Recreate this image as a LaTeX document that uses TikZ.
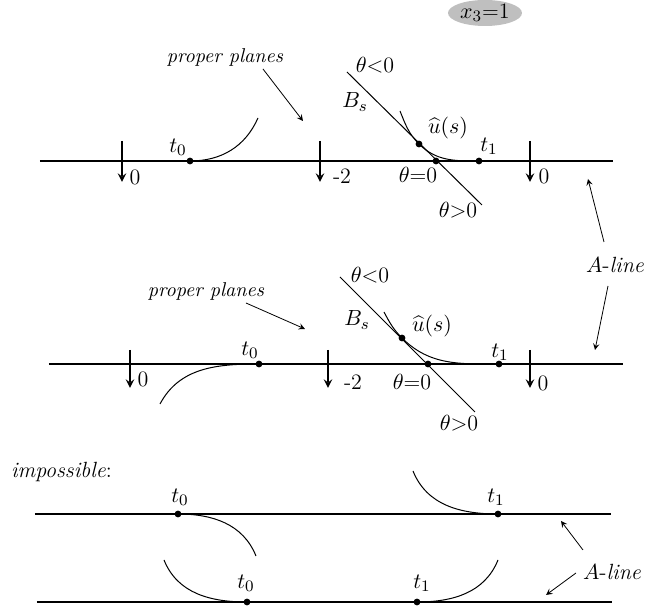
\documentclass[tikz,border=0pt]{standalone}
\usetikzlibrary{shapes.geometric}

\tikzset{
  dot/.style={circle, fill, inner sep=0pt, minimum size=3.4pt},
  axis/.style={line width=1.1pt},
  tick/.style={line width=0.9pt, ->},
  curve/.style={line width=0.5pt},
  pointer/.style={line width=0.4pt, ->},
  ulabel/.style={inner sep=0.5pt}
}

\begin{document}
\begin{tikzpicture}[x=0.5pt, y=-0.5pt, >=stealth, font=\fontsize{11}{13}\selectfont]
  \useasboundingbox (0,0) rectangle (645,614);

  \node[ellipse, fill=gray!50, minimum width=37pt, minimum height=13pt, inner sep=0pt] (xthree) at (485,13) {$x_3$=1};

  % first row
  \coordinate (la1) at (40,161);
  \coordinate (la2) at (613,161);
  \draw[axis] (la1) -- (la2);
  \foreach \x/\n in {122/a, 320/b, 530/c} {
    \coordinate (tkAtop\n) at (\x,141);
    \coordinate (tkAbot\n) at (\x,182);
    \draw[tick] (tkAtop\n) -- (tkAbot\n);
  }
  \node (zeroAa) at (135,177) {0};
  \node (twoA) at (342,176) {-2};
  \node (zeroAc) at (544,176) {0};

  \node[dot] (t0a) at (190,161) {};
  \node[dot] (ua) at (419,144) {};
  \node[dot] (tha) at (436,161) {};
  \node[dot] (t1a) at (479,161) {};
  \node (lt0a) at (178,147) {$t_0$};
  \node (lt1a) at (489,146) {$t_1$};
  \node[ulabel] (lua) at (448,128) {$\widehat{u}(s)$};
  \node (ltlessa) at (375,65) {$\theta$<0};
  \node (lbsa) at (355,102) {$B_s$};
  \node (lteqa) at (418,175) {$\theta$=0};
  \node (ltmorea) at (458,210) {$\theta$>0};

  \coordinate (bsa1) at (347,72);
  \coordinate (bsa2) at (482,205);
  \draw[curve] (bsa1) -- (bsa2);
  \coordinate (ca1) at (258,118);
  \draw[curve] (t0a.center) to[out=0, in=-114] (ca1);
  \coordinate (cu1) at (400,111);
  \draw[curve] (cu1) to[out=-68, in=135] (ua.center) to[out=-45, in=180] (t1a.center);

  \node[font=\itshape] (ppa) at (225,58) {proper planes};
  \coordinate (ppa1) at (263,69);
  \coordinate (ppa2) at (303,121);
  \draw[pointer] (ppa1) -- (ppa2);

  % second row
  \coordinate (lb1) at (49,364);
  \coordinate (lb2) at (623,364);
  \draw[axis] (lb1) -- (lb2);
  \foreach \x/\n in {130/a, 328/b, 530/c} {
    \coordinate (tkBtop\n) at (\x,350);
    \coordinate (tkBbot\n) at (\x,388);
    \draw[tick] (tkBtop\n) -- (tkBbot\n);
  }
  \node (zeroBa) at (143,379) {0};
  \node (twoB) at (353,382) {-2};
  \node (zeroBc) at (543,383) {0};

  \node[dot] (t0b) at (259,364) {};
  \node[dot] (ub) at (402,338) {};
  \node[dot] (thb) at (428,364) {};
  \node[dot] (t1b) at (499,364) {};
  \node (lt0b) at (250,350) {$t_0$};
  \node (lt1b) at (500,352) {$t_1$};
  \node[ulabel] (lub) at (432,326) {$\widehat{u}(s)$};
  \node (ltlessb) at (370,275) {$\theta$<0};
  \node (lbsb) at (357,320) {$B_s$};
  \node (lteqb) at (412,382) {$\theta$=0};
  \node (ltmoreb) at (459,423) {$\theta$>0};

  \coordinate (bsb1) at (340,277);
  \coordinate (bsb2) at (475,412);
  \draw[curve] (bsb1) -- (bsb2);
  \coordinate (cb1) at (160,404);
  \draw[curve] (cb1) to[out=62, in=180] (t0b.center);
  \coordinate (cu2) at (384,312);
  \draw[curve] (cu2) to[out=-62, in=135] (ub.center) to[out=-45, in=180] (t1b.center);

  \node[font=\itshape] (ppb) at (206,292) {proper planes};
  \coordinate (ppb1) at (246,303);
  \coordinate (ppb2) at (305,329);
  \draw[pointer] (ppb1) -- (ppb2);

  % A-line between rows
  \node (alineA) at (615,265) {$A$-\textit{line}};
  \coordinate (alA0) at (604,242);
  \coordinate (alA1) at (588,179);
  \coordinate (alA3) at (608,286);
  \coordinate (alA2) at (595,350);
  \draw[pointer] (alA0) -- (alA1);
  \draw[pointer] (alA3) -- (alA2);

  % impossible
  \node[anchor=west] (imposs) at (4,472) {\textit{impossible}:};

  \coordinate (lc1) at (35,514);
  \coordinate (lc2) at (611,514);
  \draw[axis] (lc1) -- (lc2);
  \node[dot] (t0c) at (178,514) {};
  \node[dot] (t1c) at (498,514) {};
  \node (lt0c) at (180,497) {$t_0$};
  \node (lt1c) at (496,497) {$t_1$};
  \coordinate (cc1) at (256,556);
  \coordinate (cc2) at (413,471);
  \draw[curve] (t0c.center) to[out=0, in=112] (cc1);
  \draw[curve] (cc2) to[out=-68, in=180] (t1c.center);

  \coordinate (ld1) at (37,602);
  \coordinate (ld2) at (612,602);
  \draw[axis] (ld1) -- (ld2);
  \node[dot] (t0d) at (247,602) {};
  \node[dot] (t1d) at (417,602) {};
  \node (lt0d) at (246,583) {$t_0$};
  \node (lt1d) at (422,583) {$t_1$};
  \coordinate (cd1) at (164,560);
  \coordinate (cd2) at (498,560);
  \draw[curve] (cd1) to[out=-68, in=180] (t0d.center);
  \draw[curve] (t1d.center) to[out=0, in=-112] (cd2);

  \node (alineB) at (612,572) {$A$-\textit{line}};
  \coordinate (alB0) at (583,550);
  \coordinate (alB1) at (561,521);
  \coordinate (alB3) at (576,573);
  \coordinate (alB2) at (546,595);
  \draw[pointer] (alB0) -- (alB1);
  \draw[pointer] (alB3) -- (alB2);
\end{tikzpicture}
\end{document}
